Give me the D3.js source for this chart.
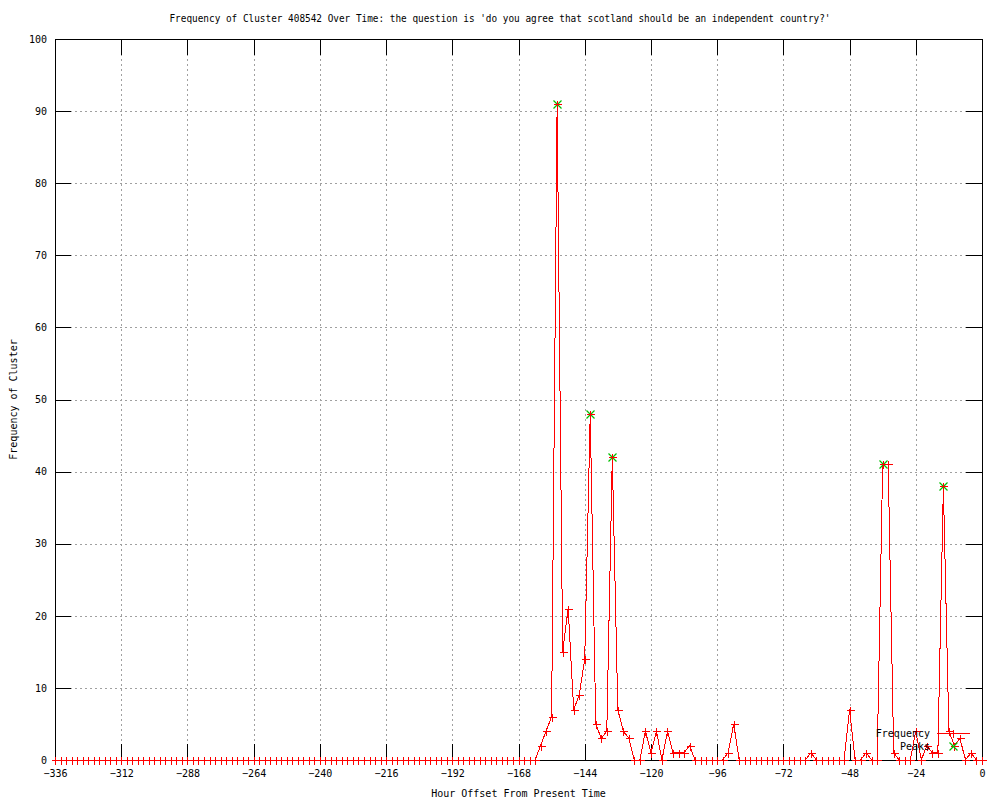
<!DOCTYPE html>
<html>
<head>
<meta charset="utf-8">
<script src="https://cdn.jsdelivr.net/npm/d3@7"></script>
<style>
  body { margin: 0; background: #ffffff; }
  svg { display: block; }
  text { font-family: "DejaVu Sans Mono", "Liberation Mono", monospace; font-size: 10px; fill: #000000; }
</style>
</head>
<body>
<svg id="sketchbook"></svg>
<script>
// hourly offsets, sampled every 2 hours from -336 up to 0
let hourStart = -336;
let hourStep  = 2;

// frequency values, one per sample (index 0 = -336h)
let frequency = [
    0, 0, 0, 0, 0, 0, 0, 0, 0, 0, 0, 0,          // -336 .. -314
    0, 0, 0, 0, 0, 0, 0, 0, 0, 0, 0, 0,          // -312 .. -290
    0, 0, 0, 0, 0, 0, 0, 0, 0, 0, 0, 0,          // -288 .. -266
    0, 0, 0, 0, 0, 0, 0, 0, 0, 0, 0, 0,          // -264 .. -242
    0, 0, 0, 0, 0, 0, 0, 0, 0, 0, 0, 0,          // -240 .. -218
    0, 0, 0, 0, 0, 0, 0, 0, 0, 0, 0, 0,          // -216 .. -194
    0, 0, 0, 0, 0, 0, 0, 0, 0, 0, 0, 0,          // -192 .. -170
    0, 0, 0, 0, 2, 4, 6, 91, 15, 21, 7, 9,       // -168 .. -146
    14, 48, 5, 3, 4, 42, 7, 4, 3, 0, 0, 4,       // -144 .. -122
    1, 4, 0, 4, 1, 1, 1, 2, 0, 0, 0, 0,          // -120 .. -98
    0, 0, 1, 5, 0, 0, 0, 0, 0, 0, 0, 0,          // -96 .. -74
    0, 0, 0, 0, 0, 1, 0, 0, 0, 0, 0, 0,          // -72 .. -50
    7, 0, 0, 1, 0, 0, 41, 41, 1, 0, 0, 0,        // -48 .. -26
    4, 0, 2, 1, 1, 38, 4, 2, 3, 0, 1, 0,         // -24 .. -2
    0                                            // 0
];

// detected peaks
let peakHours  = [-154, -142, -134, -36, -14];
let peakValues = [91, 48, 42, 41, 38];

let xTicks = [-336, -312, -288, -264, -240, -216, -192, -168, -144, -120, -96, -72, -48, -24, 0];
let yTicks = [0, 10, 20, 30, 40, 50, 60, 70, 80, 90, 100];

let titleText  = "Frequency of Cluster 408542 Over Time: the question is 'do you agree that scotland should be an independent country?'";
let xLabelText = "Hour Offset From Present Time";
let yLabelText = "Frequency of Cluster";
let seriesNames = ['Frequency', 'Peaks'];

function drawChart () {
    let w = 1000, h = 800;
    let m = { left: 55, right: 18, top: 39, bottom: 40 };
    let charW = 5.65;

    let svg = d3.select('#sketchbook')
        .attr('width', w)
        .attr('height', h);

    let freqData = frequency.map((v, i) => { return { hour: hourStart + i * hourStep, value: v }; });
    let peakData = peakHours.map((hr, i) => { return { hour: hr, value: peakValues[i] }; });

    let x = d3.scaleLinear().domain([-336, 0]).range([m.left, w - m.right]);
    let y = d3.scaleLinear().domain([0, 100]).range([h - m.bottom, m.top]);

    let x0 = x.range()[0], x1 = x.range()[1];
    let y0 = y.range()[0], y1 = y.range()[1];
    let tickLen = 16;

    // grid
    let grid = svg.append('g').attr('class', 'grid')
        .attr('stroke', '#a0a0a0')
        .attr('stroke-width', 1)
        .attr('stroke-dasharray', '2,3')
        .attr('shape-rendering', 'crispEdges');

    grid.selectAll('line.gx')
        .data(xTicks.slice(1, -1))
        .enter()
        .append('line')
        .attr('class', 'gx')
        .attr('x1', (d) => { return Math.round(x(d)) + 0.5; })
        .attr('x2', (d) => { return Math.round(x(d)) + 0.5; })
        .attr('y1', y1)
        .attr('y2', y0);

    grid.selectAll('line.gy')
        .data(yTicks.slice(1, -1))
        .enter()
        .append('line')
        .attr('class', 'gy')
        .attr('y1', (d) => { return Math.round(y(d)) + 0.5; })
        .attr('y2', (d) => { return Math.round(y(d)) + 0.5; })
        .attr('x1', x0)
        .attr('x2', x1);

    // axes: ticks inward, mirrored, labels outside
    let axBottom = svg.append('g')
        .attr('transform', 'translate(0,' + y0 + ')')
        .call(d3.axisBottom(x).tickValues(xTicks).tickSize(-tickLen).tickPadding(8).tickFormat(d3.format('d')));
    let axTop = svg.append('g')
        .attr('transform', 'translate(0,' + y1 + ')')
        .call(d3.axisTop(x).tickValues(xTicks).tickSize(-tickLen).tickFormat(''));
    let axLeft = svg.append('g')
        .attr('transform', 'translate(' + x0 + ',0)')
        .call(d3.axisLeft(y).tickValues(yTicks).tickSize(-tickLen).tickPadding(8).tickFormat(d3.format('d')));
    let axRight = svg.append('g')
        .attr('transform', 'translate(' + x1 + ',0)')
        .call(d3.axisRight(y).tickValues(yTicks).tickSize(-tickLen).tickFormat(''));

    [axBottom, axTop, axLeft, axRight].forEach((a) => {
        a.select('.domain').remove();
        a.selectAll('line').attr('stroke', '#000').attr('shape-rendering', 'crispEdges');
        a.selectAll('text').attr('font-family', null).attr('font-size', null).attr('fill', '#000');
    });
    axBottom.selectAll('text').attr('dy', '0.9em');
    axLeft.selectAll('text').attr('dx', '0');

    svg.append('rect')
        .attr('x', x0 + 0.5)
        .attr('y', y1 + 0.5)
        .attr('width', x1 - x0)
        .attr('height', y0 - y1)
        .attr('fill', 'none')
        .attr('stroke', '#000')
        .attr('shape-rendering', 'crispEdges');

    let xMark = (px, py, s) => {
        return 'M' + (px - s) + ',' + (py - s) + 'L' + (px + s) + ',' + (py + s) +
               'M' + (px - s) + ',' + (py + s) + 'L' + (px + s) + ',' + (py - s);
    };
    let plusMark = (px, py, s) => {
        return 'M' + (px - s) + ',' + py + 'L' + (px + s) + ',' + py +
               'M' + px + ',' + (py - s) + 'L' + px + ',' + (py + s);
    };

    // frequency line
    let line = d3.line()
        .x((d) => { return x(d.hour); })
        .y((d) => { return y(d.value); });

    let freq = svg.append('g').attr('class', 'frequency');
    freq.append('path')
        .datum(freqData)
        .attr('d', line)
        .attr('fill', 'none')
        .attr('stroke', '#ff0000')
        .attr('stroke-width', 1)
        .attr('shape-rendering', 'crispEdges');

    // peaks (green x), between the line and the points
    let peaks = svg.append('g').attr('class', 'peaks');
    peaks.selectAll('path')
        .data(peakData)
        .enter()
        .append('path')
        .attr('d', (d) => { return xMark(Math.round(x(d.hour)) + 0.5, Math.round(y(d.value)) + 0.5, 4); })
        .attr('stroke', '#00c000')
        .attr('stroke-width', 1.2)
        .attr('fill', 'none');

    // frequency points
    let pts = svg.append('g').attr('class', 'points');
    pts.selectAll('path.pt')
        .data(freqData)
        .enter()
        .append('path')
        .attr('class', 'pt')
        .attr('d', (d) => { return plusMark(Math.round(x(d.hour)) + 0.5, Math.round(y(d.value)) + 0.5, 4); })
        .attr('stroke', '#ff0000')
        .attr('stroke-width', 1)
        .attr('shape-rendering', 'crispEdges');

    // legend
    let legend = svg.append('g').attr('class', 'legend');
    let lgX = 930, lgY = 733, lgStep = 13;
    legend.selectAll('text')
        .data(seriesNames)
        .enter()
        .append('text')
        .attr('x', lgX)
        .attr('y', (d, i) => { return lgY + i * lgStep; })
        .attr('dy', '0.35em')
        .attr('text-anchor', 'end')
        .text((d) => { return d; });
    legend.append('line')
        .attr('x1', 937).attr('x2', 970)
        .attr('y1', lgY + 0.5).attr('y2', lgY + 0.5)
        .attr('stroke', '#ff0000')
        .attr('shape-rendering', 'crispEdges');
    legend.append('path')
        .attr('d', plusMark(953.5, lgY + 0.5, 4))
        .attr('stroke', '#ff0000')
        .attr('shape-rendering', 'crispEdges');
    legend.append('path')
        .attr('d', xMark(953.5, lgY + lgStep + 0.5, 4))
        .attr('stroke', '#00c000')
        .attr('stroke-width', 1.2)
        .attr('fill', 'none');

    // titles
    svg.append('text')
        .attr('x', 500)
        .attr('y', 18)
        .attr('dy', '0.35em')
        .attr('text-anchor', 'middle')
        .attr('textLength', titleText.length * charW)
        .attr('lengthAdjust', 'spacingAndGlyphs')
        .text(titleText);

    svg.append('text')
        .attr('x', (x0 + x1) / 2)
        .attr('y', 793)
        .attr('dy', '0.35em')
        .attr('text-anchor', 'middle')
        .text(xLabelText);

    svg.append('text')
        .attr('transform', 'translate(13,' + ((y0 + y1) / 2) + ') rotate(-90)')
        .attr('dy', '0.35em')
        .attr('text-anchor', 'middle')
        .text(yLabelText);
}

drawChart();
</script>
</body>
</html>
